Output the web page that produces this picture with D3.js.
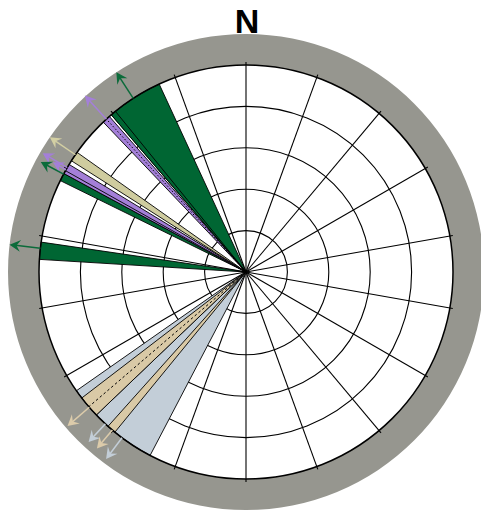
<!DOCTYPE html>
<html>
<head>
<meta charset="utf-8">
<script src="https://cdn.jsdelivr.net/npm/d3@7"></script>
<style>
  html, body { margin: 0; padding: 0; background: #fff; }
  svg { display: block; }
</style>
</head>
<body>
<svg id="chart" width="481" height="511"></svg>
<script>
// ---- data ----
const gridBearings = [0, 20, 40, 60, 80, 100, 120, 140, 160, 180, 200, 220, 240, 260, 280, 300, 320, 340];
const ringValues = [1, 2, 3, 4, 5];

const wedgeSet  = ["blue", "blue", "tan", "tan", "green", "green", "purple", "purple", "khaki", "purple", "green", "green"];
const wedgeFrom = [211.7, 207.6, 226.3, 219.3, 273.5, 296.2, 298.4, 299.3, 302.5, 316.4, 319.4, 319.4];
const wedgeTo   = [235.0, 226.3, 232.5, 221.8, 278.3, 298.4, 300.8, 301.3, 305.3, 318.7, 335.2, 320.9];

const meanLineSet     = ["tan", "purple"];
const meanLineBearing = [229.4, 317.6];

const arrowSet     = ["green", "purple", "khaki", "purple", "purple", "green", "green", "tan", "blue", "tan", "blue"];
const arrowBearing = [327.0, 317.6, 304.5, 300.3, 299.6, 298.2, 276.6, 229.2, 222.8, 220.2, 216.8];
const arrowLength  = [0.97, 1.0, 0.97, 0.89, 0.47, 0.81, 0.97, 0.9, 0.77, 0.75, 0.83];

const northLabel = "N";

// ---- styles ----
const fillColor = { green: "#006633", purple: "#a47fd8", khaki: "#cfcc9f", tan: "#d9c9a6", blue: "#c3ced8" };
const arrowColor = { green: "#0b6b3a", purple: "#a47fd8", khaki: "#d3cfa3", tan: "#dccbaa", blue: "#c3ced8" };

const cx = 246, cy = 272, R = 207, ringOuter = 238, arrowMax = 32;

const svg = d3.select("#chart");
const g = svg.append("g").attr("transform", `translate(${cx},${cy})`);

const ang = d3.scaleLinear().domain([0, 360]).range([0, 2 * Math.PI]);
const rad = d3.scaleLinear().domain([0, 5]).range([0, R]);
const arrowScale = d3.scaleLinear().domain([0, 1]).range([0, arrowMax]);

const px = (b, r) => r * Math.sin(ang(b));
const py = (b, r) => -r * Math.cos(ang(b));

// gray ring
g.append("path")
  .attr("d", d3.arc()({ innerRadius: R, outerRadius: ringOuter, startAngle: 0, endAngle: 2 * Math.PI }))
  .attr("fill", "#96968f");

// white plot area
g.append("circle").attr("r", R).attr("fill", "#fff");

// grid rings
g.selectAll("circle.ring").data(ringValues.slice(0, -1)).join("circle")
  .attr("class", "ring")
  .attr("r", d => rad(d))
  .attr("fill", "none").attr("stroke", "#000").attr("stroke-width", 1.1);

// radial grid lines with ticks
g.selectAll("line.spoke").data(gridBearings).join("line")
  .attr("class", "spoke")
  .attr("x1", 0).attr("y1", 0)
  .attr("x2", d => px(d, R + 3)).attr("y2", d => py(d, R + 3))
  .attr("stroke", "#000").attr("stroke-width", 1.1);

// wedges
const arc = d3.arc().innerRadius(0).outerRadius(R);
g.selectAll("path.wedge").data(wedgeSet.map((s, i) => ({ s, a: wedgeFrom[i], b: wedgeTo[i] }))).join("path")
  .attr("class", "wedge")
  .attr("d", d => arc({ startAngle: ang(d.a), endAngle: ang(d.b) }))
  .attr("fill", d => fillColor[d.s])
  .attr("stroke", "#000").attr("stroke-width", 0.9).attr("stroke-linejoin", "round");

// mean lines
g.selectAll("line.mean").data(meanLineSet.map((s, i) => ({ s, b: meanLineBearing[i] }))).join("line")
  .attr("class", "mean")
  .attr("x1", 0).attr("y1", 0)
  .attr("x2", d => px(d.b, R)).attr("y2", d => py(d.b, R))
  .attr("stroke", "#000").attr("stroke-width", 1)
  .attr("stroke-dasharray", d => d.s === "tan" ? "2.5,2.5" : "1.5,2");

// outer circle
g.append("circle").attr("r", R).attr("fill", "none").attr("stroke", "#000").attr("stroke-width", 1.5);

// arrows
const arrows = arrowSet.map((s, i) => ({ s, b: arrowBearing[i], len: arrowScale(arrowLength[i]) }));
const ag = g.selectAll("g.arrow").data(arrows).join("g").attr("class", "arrow");
ag.append("line")
  .attr("x1", d => px(d.b, R)).attr("y1", d => py(d.b, R))
  .attr("x2", d => px(d.b, R + d.len - 6)).attr("y2", d => py(d.b, R + d.len - 6))
  .attr("stroke", d => arrowColor[d.s]).attr("stroke-width", 1.5);
ag.append("path")
  .attr("d", "M0,0 L-11,-6 L-7,0 L-11,6 Z")
  .attr("transform", d => `translate(${px(d.b, R + d.len)},${py(d.b, R + d.len)}) rotate(${d.b - 90})`)
  .attr("fill", d => arrowColor[d.s]);

// north label
svg.append("text")
  .attr("x", cx + 1).attr("y", 33)
  .attr("text-anchor", "middle")
  .attr("font-family", "Liberation Sans, Arial, sans-serif")
  .attr("font-weight", "bold")
  .attr("font-size", 34)
  .text(northLabel);
</script>
</body>
</html>
